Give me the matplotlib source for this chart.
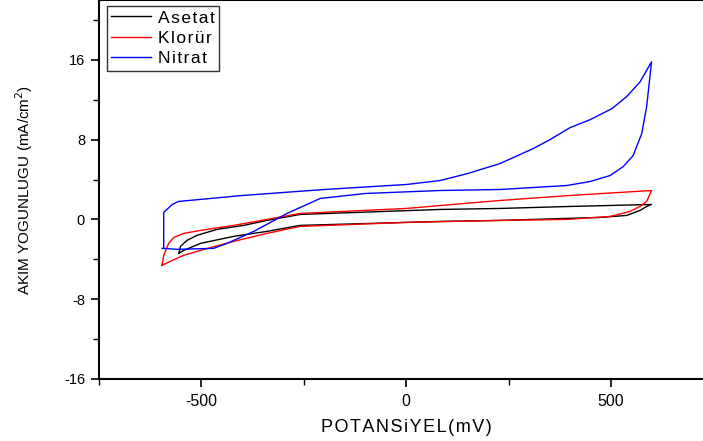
import matplotlib
matplotlib.use("Agg")
import matplotlib.pyplot as plt
from matplotlib.ticker import MultipleLocator

plt.rcParams['font.family'] = ['Liberation Sans', 'DejaVu Sans']
plt.rcParams['axes.unicode_minus'] = False

# Asetat (black) - closed loop
asetat_x = [-555, -551, -535, -511, -462, -397, -340, -259, 83, 229, 400, 599,
            587, 571, 538, 473, 229, 83, -259, -340, -421, -502, -543, -555]
asetat_y = [-3.4, -2.7, -2.1, -1.6, -1.0, -0.6, -0.1, 0.5, 1.0, 1.1, 1.3, 1.5,
            1.3, 0.9, 0.4, 0.2, -0.1, -0.2, -0.6, -1.2, -1.7, -2.4, -3.1, -3.4]

# Klorur (red)
klorur_x = [-596, -592, -580, -567, -543, -502, -421, -340, -259, 0, 229, 400, 599,
            587, 571, 546, 498, 392, 229, 0, -259, -340, -421, -502, -543, -576, -596]
klorur_y = [-4.6, -3.6, -2.4, -1.8, -1.4, -1.1, -0.6, 0.0, 0.6, 1.1, 1.9, 2.4, 2.9,
            1.8, 1.3, 0.8, 0.3, 0.0, -0.1, -0.3, -0.7, -1.4, -2.2, -3.1, -3.6, -4.2, -4.6]

# Nitrat (blue)
nitrat_x = [-592, -592, -571, -556, -400, -200, 0, 83, 150, 229, 310, 351, 400, 449,
            502, 538, 571, 599, 587, 575, 554, 530, 498, 449, 392, 229, 83, -100,
            -210, -291, -372, -437, -470, -559, -596]
nitrat_y = [-2.9, 0.7, 1.5, 1.8, 2.4, 3.0, 3.5, 3.9, 4.6, 5.6, 7.1, 8.0, 9.2, 10.0,
            11.1, 12.3, 13.8, 15.8, 11.3, 8.6, 6.4, 5.3, 4.4, 3.8, 3.4, 3.0, 2.9, 2.6,
            2.1, 0.6, -1.2, -2.4, -2.9, -3.0, -2.9]

HS = '\u200a'  # hair space for the wide letter spacing


def spaced(s):
    return HS.join(s)


fig = plt.figure(figsize=(7.03, 4.41), dpi=100)
ax = fig.add_axes([0.1408, 0.1406, 0.874, 0.8594])

ax.plot(asetat_x, asetat_y, color='black', lw=1.0, label=spaced('Asetat'))
ax.plot(klorur_x, klorur_y, color='red', lw=1.0, label=spaced('Klorür'))
ax.plot(nitrat_x, nitrat_y, color='blue', lw=1.0, label=spaced('Nitrat'))

ax.set_xlim(-750, 750)
ax.set_ylim(-16, 22)
ax.xaxis.set_major_locator(MultipleLocator(500))
ax.xaxis.set_minor_locator(MultipleLocator(250))
ax.yaxis.set_minor_locator(MultipleLocator(4))
ax.set_yticks([-16, -8, 0, 8, 16])
ax.tick_params(which='major', direction='out', length=6, width=1.2)
ax.tick_params(which='minor', direction='out', length=4, width=1.0)
ax.tick_params(axis='x', pad=5, labelsize=11.5)
ax.tick_params(axis='y', pad=4, labelsize=10.5)
for s in ax.spines.values():
    s.set_linewidth(1.5)

ax.set_xlabel(spaced('POTANSiYEL(mV)'), fontsize=13, labelpad=7)
ax.set_ylabel('AKIM YOGUNLUGU (mA/cm$^2$)', fontsize=11, labelpad=21)

leg = ax.legend(loc='upper left', bbox_to_anchor=(0.013, 0.984), fontsize=12.5,
                frameon=True, fancybox=False, edgecolor='black', handlelength=2.3,
                handletextpad=0.4, borderpad=0.25, labelspacing=0.3, borderaxespad=0)
leg.get_frame().set_linewidth(1.0)

fig.savefig('out.png', dpi=100)
